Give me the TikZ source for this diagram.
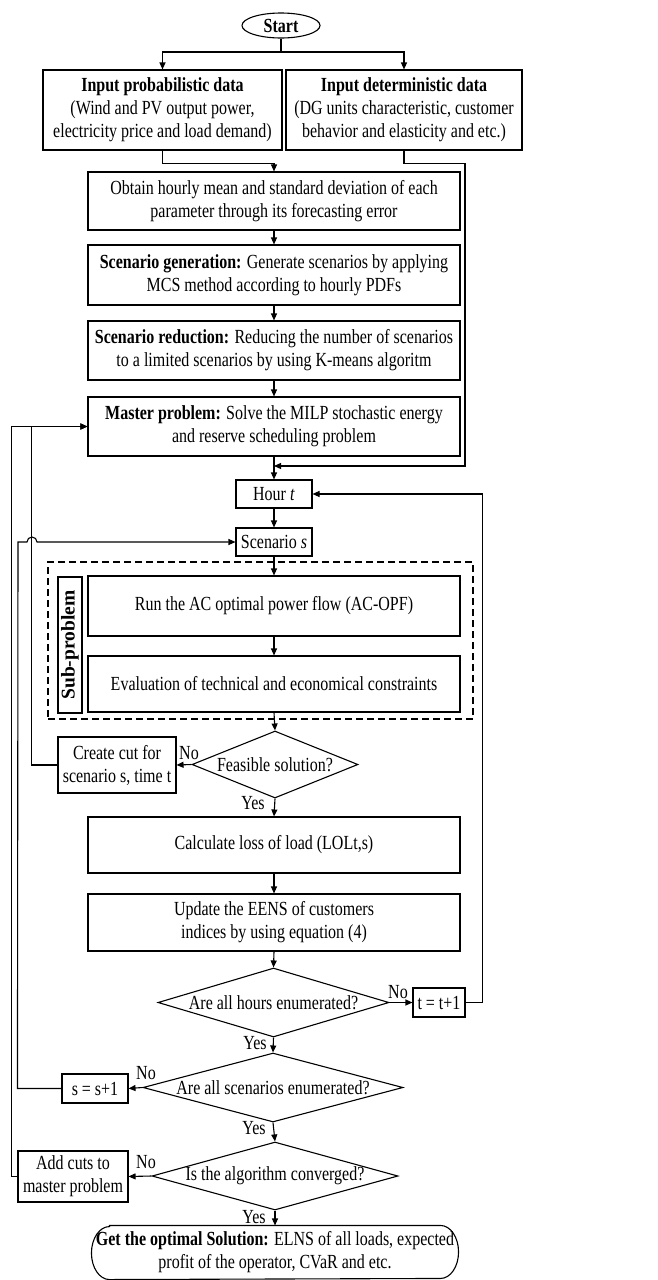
\documentclass[tikz,border=0pt]{standalone}
\usepackage{fontspec}
\setmainfont{Liberation Serif}[FakeStretch=0.8]
\newfontfamily\rotfont{Liberation Serif}
\usetikzlibrary{arrows.meta,shapes.geometric,calc}
\begin{document}
\begin{tikzpicture}[x=1pt,y=-1pt,line width=1.1pt,
  every node/.style={font=\fontsize{20}{23}\selectfont},
  box/.style={draw,rectangle,inner sep=0pt,align=center},
  dia/.style={draw,diamond,inner sep=0pt},
  arr/.style={-{Triangle[length=7pt,width=6pt]}},
  lbl/.style={inner sep=0pt}]
\useasboundingbox[fill=white] (0,0) rectangle (657,1280);
% nodes
\node[draw,ellipse,inner sep=0pt,minimum width=78pt,minimum height=25pt,font=\fontsize{20}{22}\selectfont\bfseries] (start) at (281,25.5) {Start};
\node[box,minimum width=239pt,minimum height=80pt] (in1) at (162.5,110) {\textbf{Input probabilistic data}\\(Wind and PV output power,\\electricity price and load demand)};
\node[box,minimum width=236pt,minimum height=80pt] (in2) at (404,110) {\textbf{Input deterministic data}\\(DG units characteristic, customer\\behavior and elasticity and etc.)};
\node[box,minimum width=372pt,minimum height=58pt] (obtain) at (274,201) {Obtain hourly mean and standard deviation of each\\parameter through its forecasting error};
\node[box,minimum width=372pt,minimum height=60pt] (gen) at (274,275) {\textbf{Scenario generation:} Generate scenarios by applying\\MCS method according to hourly PDFs};
\node[box,minimum width=372pt,minimum height=59pt] (red) at (274,350.5) {\textbf{Scenario reduction:} Reducing the number of scenarios\\to a limited scenarios by using K-means algoritm};
\node[box,minimum width=372pt,minimum height=59pt] (master) at (274,426.5) {\textbf{Master problem:} Solve the MILP stochastic energy\\and reserve scheduling problem};
\node[box,minimum width=76pt,minimum height=28pt] (hour) at (274,494) {Hour \textit{t}};
\node[box,minimum width=76pt,minimum height=28pt] (scen) at (274,542) {Scenario \textit{s}};
\node[draw,dashed,dash pattern=on 7pt off 4pt,inner sep=0pt,minimum width=425pt,minimum height=157pt] (sub) at (260.5,640.5) {};
\node[box,rotate=90,minimum width=136pt,minimum height=24pt,font=\rotfont\fontsize{19.5}{22}\selectfont\bfseries] (sublbl) at (70,645) {Sub-problem};
\node[box,minimum width=372pt,minimum height=60pt] (opf) at (274,606) {Run the AC optimal power flow (AC-OPF)};
\node[box,minimum width=372pt,minimum height=56pt] (eval) at (274,684) {Evaluation of technical and economical constraints};
\node[dia,minimum width=166pt,minimum height=67pt] (feas) at (275,764.5) {};
\node[lbl] (feast) at (feas) {Feasible solution?};
\node[box,minimum width=118pt,minimum height=56pt] (create) at (117,765) {Create cut for\\scenario s, time t};
\node[box,minimum width=372pt,minimum height=56pt] (calc) at (274,845) {Calculate loss of load (LOLt,s)};
\node[box,minimum width=372pt,minimum height=57pt] (upd) at (274,922.5) {Update the EENS of customers\\indices by using equation (4)};
\node[dia,minimum width=231pt,minimum height=69pt] (hours) at (273.5,1002.5) {};
\node[lbl] (hourst) at (hours) {Are all hours enumerated?};
\node[box,minimum width=52pt,minimum height=29pt] (tt) at (439,1002.5) {t = t+1};
\node[dia,minimum width=260pt,minimum height=69pt] (scens) at (273,1087.5) {};
\node[lbl] (scenst) at (scens) {Are all scenarios enumerated?};
\node[box,minimum width=66pt,minimum height=29pt] (ss) at (95,1088.5) {s = s+1};
\node[dia,minimum width=246pt,minimum height=68pt] (conv) at (275,1176) {};
\node[lbl] (convt) at (conv) {Is the algorithm converged?};
\node[box,minimum width=110pt,minimum height=51pt] (add) at (73,1176.5) {Add cuts to\\master problem};
\node[inner sep=0pt,align=center,minimum width=366pt,minimum height=53pt] (final) at (275,1252.5) {\textbf{Get the optimal Solution:} ELNS of all loads, expected\\profit of the operator, CVaR and etc.};
\draw ($(final.north west)+(18,0)$) -- ($(final.north east)+(-18,0)$)
  arc[x radius=18,y radius=26.5,start angle=-90,end angle=90]
  -- ($(final.south west)+(18,0)$)
  arc[x radius=18,y radius=26.5,start angle=90,end angle=270] -- cycle;
% labels
\node[lbl] (no1) at (189,753) {No};
\node[lbl] (no2) at (398,992) {No};
\node[lbl] (no3) at (146,1073) {No};
\node[lbl] (no4) at (146,1162) {No};
\node[lbl] (yes1) at (253,803) {Yes};
\node[lbl] (yes2) at (255,1043) {Yes};
\node[lbl] (yes3) at (254,1128) {Yes};
\node[lbl] (yes4) at (254,1217) {Yes};
% coordinates
\coordinate (j1) at (281,52);
\coordinate (m1) at (274,466);
% connectors
\draw (start.south) -- (j1);
\draw[arr] (j1) -| (in1.north);
\draw[arr] (j1) -| (in2.north);
\draw[arr] (in1.south) -- ++(0,13) -| (obtain.north);
\draw[arr] (in2.south) -- ++(0,13) -- ++(61,0) |- (m1);
\draw[arr] (obtain) -- (gen);
\draw[arr] (gen) -- (red);
\draw[arr] (red) -- (master);
\draw[arr] (master) -- (hour);
\draw[arr] (hour) -- (scen);
\draw[arr] (scen) -- (opf);
\draw[arr] (opf) -- (eval);
\draw[arr] (eval.south) -- (feas.north);
\draw[arr] (feas.west) -- (create.east);
\draw[arr] (create.west) -- ++(-26,0) |- (master.west);
\draw[arr] (feas.south) -- (calc.north);
\draw[arr] (calc) -- (upd);
\draw[arr] (upd.south) -- (hours.north);
\draw[arr] (hours.east) -- (tt.west);
\draw[arr] (tt.east) -- ++(17,0) |- (hour.east);
\draw[arr] (hours.south) -- (scens.north);
\draw[arr] (scens.west) -- (ss.east);
\draw[arr] (ss.west) -- ++(-44,0) -- (18,542) -- (27,542) arc[start angle=180,end angle=360,radius=5] -- (scen.west);
\draw[arr] (scens.south) -- (conv.north);
\draw[arr] (conv.west) -- (add.east);
\draw[arr] (add.west) -- ++(-6,0) |- (master.west);
\draw[arr] (conv.south) -- (final.north);
\end{tikzpicture}
\end{document}
